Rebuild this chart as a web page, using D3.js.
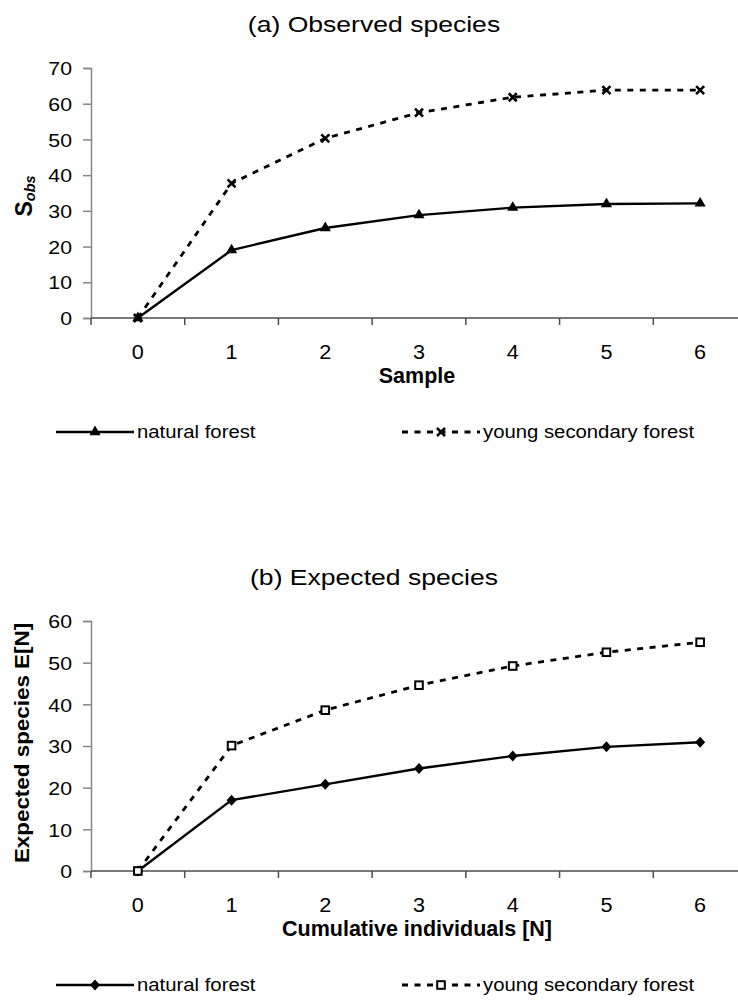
<!DOCTYPE html>
<html>
<head>
<meta charset="utf-8">
<script src="https://cdn.jsdelivr.net/npm/d3@7/dist/d3.min.js"></script>
<style>
	body{ margin: 0; background: #fff; }
	text{ font-family: "Liberation Sans", Arial, sans-serif; fill: #000; }
</style>
</head>
<body>
<div id="chart"></div>
<script>
// sample / individual steps on the x axis
var steps = [0, 1, 2, 3, 4, 5, 6];
// (a) observed species per sample
var obsNatural = [0, 19, 25.2, 28.8, 30.9, 31.9, 32.1];
var obsYoung = [0, 37.7, 50.3, 57.5, 61.8, 63.8, 63.8];
// (b) expected species E[N]
var expNatural = [0, 17, 20.8, 24.6, 27.6, 29.8, 30.9];
var expYoung = [0, 30.1, 38.6, 44.6, 49.2, 52.5, 54.9];
var seriesNames = ["natural forest", "young secondary forest"];
var obsTicks = [0, 10, 20, 30, 40, 50, 60, 70];
var expTicks = [0, 10, 20, 30, 40, 50, 60];

;(function(d3){
	var width = 738,
		height = 1001;
	var svg = d3.select("#chart").append("svg").attr("width", width).attr("height", height);
	svg.append("rect").attr("width", width).attr("height", height).attr("fill", "#fff");

	// widen glyphs a little (the exported chart fonts run wide)
	function stretch(sel, sx){
		sel.each(function(){
			var w = this.getComputedTextLength();
			d3.select(this).attr("textLength", w * sx).attr("lengthAdjust", "spacingAndGlyphs");
		});
		return sel;
	}

	/*************marker shapes*************/
	var shapes = {
		triangle: function(g){
			g.append("path").attr("d", d3.symbol(d3.symbolTriangle, 54)()).attr("fill", "#000");
		},
		cross: function(g){
			g.append("path").attr("d", "M-4,-4L4,4M4,-4L-4,4")
				.attr("stroke", "#000").attr("stroke-width", 2.6).attr("fill", "none");
		},
		diamond: function(g){
			g.append("path").attr("d", "M0,-5.5L5,0L0,5.5L-5,0Z").attr("fill", "#000");
		},
		square: function(g){
			g.append("rect").attr("x", -3.8).attr("y", -3.8).attr("width", 7.6).attr("height", 7.6)
				.attr("fill", "#fff").attr("stroke", "#000").attr("stroke-width", 2);
		}
	};
	var solid = { "stroke-width": 2.4, "dash": null },
		dashed = { "stroke-width": 2.8, "dash": "6,6.5" };

	function panel(opt){
		var x = d3.scaleBand().domain(steps).range([91, 747]),
			y = d3.scaleLinear().domain([0, opt.ticks[opt.ticks.length - 1]]).range([opt.bottom, opt.top]),
			cx = function(d){ return x(d) + x.bandwidth() / 2; };
		var g = svg.append("g");

		stretch(g.append("text").attr("x", 374).attr("y", opt.titleY)
			.attr("text-anchor", "middle").attr("font-size", 22.5).text(opt.title), 1.18);

		// y axis, grey with outside ticks
		var yAxis = g.append("g").attr("transform", "translate(91,0)")
			.call(d3.axisLeft(y).tickValues(opt.ticks).tickSize(8).tickPadding(11));
		yAxis.select(".domain").attr("stroke", "#868686").attr("stroke-width", 1.5);
		yAxis.selectAll(".tick line").attr("stroke", "#868686").attr("stroke-width", 1.5);
		yAxis.attr("font-family", null).attr("font-size", null);
		stretch(yAxis.selectAll(".tick text").attr("font-size", 18.5).attr("fill", "#000").attr("dy", "0.36em"), 1.15);

		// x axis: ticks between categories, labels centred on them
		var xAxis = g.append("g").attr("transform", "translate(0," + opt.bottom + ")");
		xAxis.append("line").attr("x1", 91).attr("x2", width).attr("stroke", "#4d4d4d").attr("stroke-width", 1.5);
		xAxis.selectAll(".xt").data(steps).enter().append("line")
			.attr("x1", function(d){ return x(d); }).attr("x2", function(d){ return x(d); })
			.attr("y1", 0).attr("y2", 7).attr("stroke", "#4d4d4d").attr("stroke-width", 1.5);
		stretch(xAxis.selectAll(".xl").data(steps).enter().append("text")
			.attr("x", cx).attr("y", 41).attr("text-anchor", "middle").attr("font-size", 20)
			.text(function(d){ return d; }), 1.08);
		xAxis.append("text").attr("x", 417).attr("y", 65).attr("text-anchor", "middle")
			.attr("font-size", 21.5).attr("font-weight", "bold").text(opt.xLabel);

		opt.yLabel(g.append("text").attr("transform", "translate(" + opt.yLabelX + "," + opt.yLabelY + ") rotate(-90)")
			.attr("text-anchor", "middle").attr("font-weight", "bold"));

		var line = d3.line().x(function(d, i){ return cx(steps[i]); }).y(function(d){ return y(d); });
		opt.series.forEach(function(s){
			g.append("path").attr("d", line(s.values)).attr("fill", "none").attr("stroke", "#000")
				.attr("stroke-width", s.style["stroke-width"]).attr("stroke-dasharray", s.style.dash);
			s.values.forEach(function(v, i){
				shapes[s.marker](g.append("g").attr("transform", "translate(" + cx(steps[i]) + "," + y(v) + ")"));
			});
		});

		// legend under the plot
		var ly = opt.bottom + 114;
		opt.series.forEach(function(s, i){
			var lx = i ? 402 : 56,
				lg = g.append("g");
			lg.append("line").attr("x1", lx).attr("x2", lx + 78).attr("y1", ly).attr("y2", ly)
				.attr("stroke", "#000").attr("stroke-width", s.style["stroke-width"]).attr("stroke-dasharray", s.style.dash);
			shapes[s.marker](lg.append("g").attr("transform", "translate(" + (lx + 39) + "," + ly + ")"));
			stretch(lg.append("text").attr("x", lx + 81).attr("y", ly + 6).attr("font-size", 17.5).text(s.name), 1.16);
		});
	}

	panel({
		top: 68, bottom: 318, ticks: obsTicks, titleY: 32,
		title: "(a) Observed species", xLabel: "Sample",
		yLabelX: 32, yLabelY: 196,
		yLabel: function(t){
			t.append("tspan").attr("font-size", 23).text("S");
			t.append("tspan").attr("font-size", 14.5).attr("font-style", "italic").attr("dy", 3).text("obs");
		},
		series: [
			{ name: seriesNames[0], values: obsNatural, marker: "triangle", style: solid },
			{ name: seriesNames[1], values: obsYoung, marker: "cross", style: dashed }
		]
	});
	panel({
		top: 621, bottom: 871, ticks: expTicks, titleY: 585,
		title: "(b) Expected species", xLabel: "Cumulative individuals [N]",
		yLabelX: 29, yLabelY: 743,
		yLabel: function(t){ stretch(t.attr("font-size", 20).text("Expected species E[N]"), 1.12); },
		series: [
			{ name: seriesNames[0], values: expNatural, marker: "diamond", style: solid },
			{ name: seriesNames[1], values: expYoung, marker: "square", style: dashed }
		]
	});
})(d3);
</script>
</body>
</html>
